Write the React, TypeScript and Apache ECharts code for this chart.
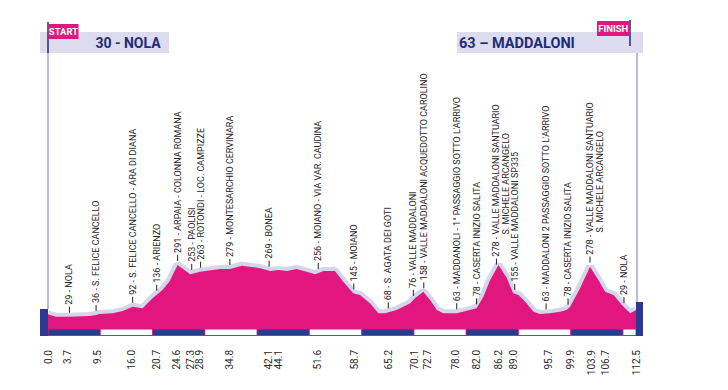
import React, { useEffect, useRef } from "react";
import * as echarts from "echarts";

// Profile (km, elevation m)
const profileKm = [0.0,1.5,4.1,7.9,9.2,9.8,12.4,14.3,16.2,18.1,20.0,21.9,23.2,24.8,27.2,29.1,32.9,34.8,37.1,38.6,40.6,42.5,44.1,45.7,47.6,49.5,51.1,52.7,54.9,56.5,58.4,59.7,61.6,63.2,64.5,66.7,69.3,70.2,71.8,73.1,74.4,75.6,78.2,80.7,82.0,83.3,84.6,86.2,87.8,89.0,90.0,91.3,92.9,94.1,96.0,98.0,99.2,99.9,101.8,103.7,105.3,106.6,108.2,109.8,111.4,112.5];
const profileElev = [36,24,24,28,33,38,42,53,75,67,119,161,204,290,242,255,269,269,286,281,273,259,264,259,269,255,242,259,259,204,144,136,93,42,42,59,93,119,152,110,59,42,42,59,67,127,213,290,221,144,136,101,50,38,42,50,59,75,170,281,213,152,136,84,42,59];

// Km tick labels
const kmTicks = [0.0,3.7,9.5,16.0,20.7,24.6,27.3,28.9,34.8,42.1,44.1,51.6,58.7,65.2,70.1,72.7,78.0,82.0,86.2,89.0,95.7,99.9,103.9,106.7,112.5];

// Point labels
const labelKm = [4.1,9.2,16.2,20.8,24.8,27.5,29.2,34.8,42.3,51.7,58.5,65.1,69.9,71.9,78.2,82.0,85.8,89.3,95.3,99.5,103.7,110.2];
const labelText = [
  "29 - NOLA",
  "36 - S. FELICE CANCELLO",
  "92 - S. FELICE CANCELLO - ARA DI DIANA",
  "136 - ARIENZO",
  "291 - ARPAIA - COLONNA ROMANA",
  "253 - PAOLISI",
  "263 - ROTONDI - LOC. CAMPIZZE",
  "279 - MONTESARCHIO CERVINARA",
  "269 - BONEA",
  "256 - MOIANO - VIA VAR. CAUDINA",
  "145 - MOIANO",
  "68 - S. AGATA DEI GOTI",
  "76 - VALLE MADDALONI",
  "158 - VALLE MADDALONI ACQUEDOTTO CAROLINO",
  "63 - MADDANOLI - 1° PASSAGGIO SOTTO L'ARRIVO",
  "78 - CASERTA INIZIO SALITA",
  "278 - VALLE MADDALONI SANTUARIO",
  "155 - VALLE MADDALONI SP335",
  "63 - MADDALONI 2 PASSAGGIO SOTTO L'ARRIVO",
  "78 - CASERTA INIZIO SALITA",
  "278 - VALLE MADDALONI SANTUARIO",
  "29 - NOLA",
];
const labelText2 = ["","","","","","","","","","","","","","","","","S. MICHELE ARCANGELO","","","","S. MICHELE ARCANGELO",""];

// Distance strip segments (km)
const stripStart = [0,10,20,30,40,50,60,70,80,90,100,110];
const stripEnd = [10,20,30,40,50,60,70,80,90,100,110,112.5];

const startTitle = "30 - NOLA";
const finishTitle = "63 – MADDALONI";

const PINK = "#E1177F";
const LAV = "#D6D6EB";
const BLUE = "#2B3990";
const NAVY = "#1F2B7A";
const Y_MIN = -75;

function interp(km: number): number {
  for (let i = 0; i < profileKm.length - 1; i++) {
    if (km >= profileKm[i] && km <= profileKm[i + 1]) {
      const t = (km - profileKm[i]) / (profileKm[i + 1] - profileKm[i]);
      return profileElev[i] + t * (profileElev[i + 1] - profileElev[i]);
    }
  }
  return profileElev[profileElev.length - 1];
}

let measureCtx: CanvasRenderingContext2D | null = null;
function measure(text: string, font: string): number {
  if (!measureCtx) measureCtx = document.createElement("canvas").getContext("2d");
  if (!measureCtx) return text.length * 5;
  measureCtx.font = font;
  return measureCtx.measureText(text).width;
}

export default function App() {
  const ref = useRef<HTMLDivElement>(null);
  useEffect(() => {
    if (!ref.current) return;
    const chart = echarts.init(ref.current, undefined, { renderer: "svg" });
    const profileData = profileKm.map((k, i) => [k, profileElev[i]]);
    const stripData = stripStart.map((s, i) => [s, stripEnd[i]]);
    const labelData = labelKm.map((k) => [k, interp(k)]);

    const option: any = {
      animation: false,
      grid: { left: 48, right: 92, top: 185, bottom: 54, outerBoundsMode: "none" },
      xAxis: {
        type: "value",
        min: 0,
        max: 112.5,
        axisLine: { show: false },
        splitLine: { show: false },
        axisTick: { show: true, customValues: kmTicks, length: 7, lineStyle: { color: "#8a8a8a", width: 1 } },
        axisLabel: {
          customValues: kmTicks,
          formatter: (v: number) => v.toFixed(1),
          rotate: 90,
          margin: 14,
          fontSize: 10,
          fontFamily: "Roboto",
          color: "#2a2a2a",
        },
      },
      yAxis: { type: "value", min: Y_MIN, max: 700, show: false },
      series: [
        {
          type: "line",
          data: profileData,
          symbol: "none",
          silent: true,
          lineStyle: { color: LAV, width: 8 },
          z: 1,
        },
        {
          type: "line",
          data: profileData,
          symbol: "none",
          silent: true,
          lineStyle: { width: 0, opacity: 0 },
          areaStyle: { color: PINK, opacity: 1, origin: "start" },
          z: 2,
        },
        {
          type: "custom",
          data: stripData,
          clip: false,
          silent: true,
          z: 3,
          encode: { x: [0, 1] },
          renderItem: (params: any, api: any) => {
            const a = api.coord([api.value(0), Y_MIN]);
            const b = api.coord([api.value(1), Y_MIN]);
            const i = params.dataIndex;
            return {
              type: "rect",
              shape: { x: a[0] + 0.5, y: a[1] - 6.5, width: b[0] - a[0] - 1, height: 5.5 },
              style: { fill: i % 2 === 0 ? BLUE : "#ffffff" },
            };
          },
        },
        {
          type: "custom",
          data: labelData,
          clip: false,
          silent: true,
          z: 4,
          encode: { x: 0, y: 1 },
          renderItem: (params: any, api: any) => {
            const i = params.dataIndex;
            const p = api.coord([api.value(0), api.value(1)]);
            const children: any[] = [
              {
                type: "line",
                shape: { x1: p[0], y1: p[1] - 4, x2: p[0], y2: p[1] - 10 },
                style: { stroke: "#222", lineWidth: 1 },
              },
              {
                type: "text",
                x: p[0],
                y: p[1] - 12,
                rotation: Math.PI / 2,
                style: {
                  text: labelText[i],
                  fill: "#222",
                  fontSize: 9,
                  fontFamily: "Roboto",
                  align: "left",
                  verticalAlign: "middle",
                },
              },
            ];
            if (labelText2[i]) {
              const prefix = labelText[i].split(" - ")[0] + " - ";
              const indent = measure(prefix, "9px Roboto");
              children.push({
                type: "text",
                x: p[0] + 10,
                y: p[1] - 12 - indent,
                rotation: Math.PI / 2,
                style: {
                  text: labelText2[i],
                  fill: "#222",
                  fontSize: 9,
                  fontFamily: "Roboto",
                  align: "left",
                  verticalAlign: "middle",
                },
              });
            }
            return { type: "group", children };
          },
        },
      ],
      graphic: [
        { type: "rect", z: 10, shape: { x: 40, y: 32, width: 129, height: 21 }, style: { fill: "#DCDCEE" } },
        { type: "rect", z: 10, shape: { x: 457, y: 32, width: 186, height: 21 }, style: { fill: "#DCDCEE" } },
        {
          type: "text", z: 12, x: 128, y: 43,
          style: { text: startTitle, fill: NAVY, fontSize: 14, fontWeight: "bold", fontFamily: "Roboto", align: "center", verticalAlign: "middle" },
        },
        {
          type: "text", z: 12, x: 459, y: 43,
          style: { text: finishTitle, fill: NAVY, fontSize: 14.5, fontWeight: "bold", fontFamily: "Roboto", align: "left", verticalAlign: "middle" },
        },
        { type: "line", z: 11, shape: { x1: 48, y1: 52, x2: 48, y2: 309 }, style: { stroke: "#A3A5C8", lineWidth: 1.5 } },
        { type: "line", z: 13, shape: { x1: 48, y1: 22, x2: 48, y2: 53 }, style: { stroke: NAVY, lineWidth: 1.5 } },
        { type: "line", z: 11, shape: { x1: 637, y1: 53, x2: 637, y2: 302 }, style: { stroke: "#A3A5C8", lineWidth: 1.5 } },
        { type: "line", z: 13, shape: { x1: 630, y1: 20, x2: 630, y2: 46 }, style: { stroke: NAVY, lineWidth: 1.5 } },
        { type: "rect", z: 14, shape: { x: 48.5, y: 24, width: 30, height: 15 }, style: { fill: PINK } },
        {
          type: "text", z: 15, x: 63.5, y: 31.8,
          style: { text: "START", fill: "#fff", fontSize: 9.5, fontWeight: "bold", fontFamily: "Roboto", align: "center", verticalAlign: "middle" },
        },
        { type: "rect", z: 14, shape: { x: 597, y: 21, width: 32.5, height: 15 }, style: { fill: PINK } },
        {
          type: "text", z: 15, x: 613.3, y: 28.8,
          style: { text: "FINISH", fill: "#fff", fontSize: 9.5, fontWeight: "bold", fontFamily: "Roboto", align: "center", verticalAlign: "middle" },
        },
        { type: "rect", z: 5, shape: { x: 40, y: 309, width: 8, height: 27 }, style: { fill: BLUE } },
        { type: "rect", z: 5, shape: { x: 636, y: 302, width: 7, height: 34 }, style: { fill: BLUE } },
      ],
    };
    chart.setOption(option);
    return () => chart.dispose();
  }, []);
  return (
    <div
      ref={ref}
      style={{ position: "absolute", left: 0, top: 0, width: 728, height: 390, background: "#fff" }}
    />
  );
}
